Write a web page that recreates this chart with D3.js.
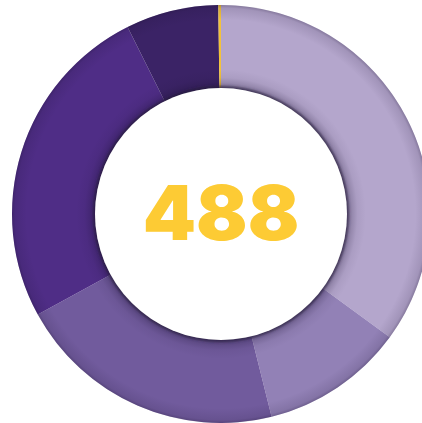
<!DOCTYPE html>
<html>
  <head>
    <title>Donut</title>
    <script src="https://cdn.jsdelivr.net/npm/d3@7"></script>
    <style>
      body { margin: 0; background: #fff; }
    </style>
  </head>
  <body>
    <svg width="422" height="423" id="mainsvg"></svg>
    <script>
    // slices clockwise from 12 o'clock
    const categories = ['a', 'b', 'c', 'd', 'e', 'f'];
    const values = [171, 54, 102, 125, 35, 1];
    const colors = ['#b4a6cc', '#9281b6', '#715b9d', '#4f2d86', '#3b2366', '#f2c23a'];
    const total = '488';

    let svg = d3.select('#mainsvg');
    const cx = 221, cy = 214, outerR = 209, innerR = 126;

    const defs = svg.append('defs');
    // edge shading across the ring
    let grad = defs.append('radialGradient').attr('id', 'shade')
      .attr('gradientUnits', 'userSpaceOnUse')
      .attr('cx', cx).attr('cy', cy).attr('r', outerR);
    const f0 = innerR / outerR;
    [[f0, 0.55], [f0 + 0.015, 0.25], [f0 + 0.05, 0.06], [f0 + 0.09, 0], [0.93, 0], [0.985, 0.12], [1, 0.3]]
      .forEach(s => grad.append('stop').attr('offset', s[0]).attr('stop-color', '#1a1030').attr('stop-opacity', s[1]));

    defs.append('filter').attr('id', 'blur').append('feGaussianBlur').attr('stdDeviation', 1.6);

    const g = svg.append('g').attr('transform', `translate(${cx},${cy})`);

    const pie = d3.pie().sort(null).value(d => d.value);
    const arc = d3.arc().innerRadius(innerR).outerRadius(outerR);
    const data = categories.map((c, i) => ({name: c, value: values[i]}));

    g.selectAll('path.slice').data(pie(data)).join('path')
      .attr('class', 'slice')
      .attr('d', arc)
      .attr('fill', (d, i) => colors[i]);

    g.append('circle').attr('r', outerR).attr('fill', 'url(#shade)')
      .attr('transform', `translate(${-cx},${-cy})`).attr('cx', cx).attr('cy', cy);

    // shadow around the hole
    g.append('circle').attr('r', innerR + 0.5).attr('fill', 'none')
      .attr('stroke', '#2a2040').attr('stroke-width', 2.5).attr('opacity', 0.7)
      .attr('filter', 'url(#blur)');
    g.append('circle').attr('r', innerR).attr('fill', '#fff');

    g.append('text')
      .attr('x', 0).attr('y', 26)
      .attr('text-anchor', 'middle')
      .attr('font-family', 'Inter, Lato, sans-serif')
      .attr('font-weight', 900)
      .attr('font-size', 76)
      .attr('fill', '#fdcb34')
      .text(total);
    </script>
  </body>
</html>
